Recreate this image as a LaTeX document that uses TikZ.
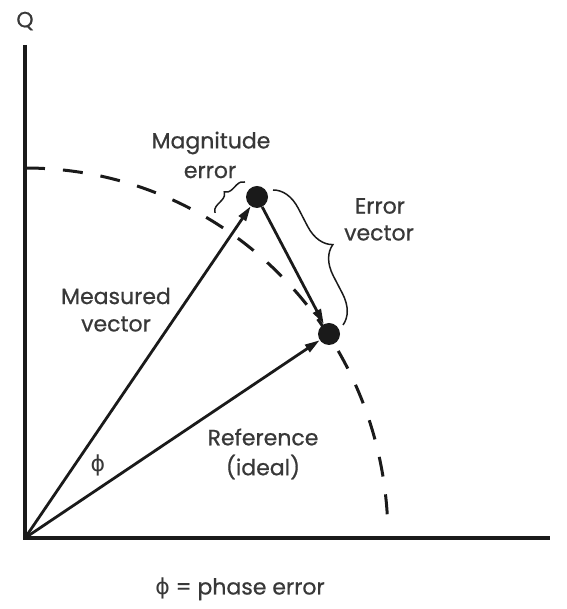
\documentclass[tikz,border=0pt]{standalone}
\usepackage{fontspec}
\setmainfont{Poppins}[FakeBold=0.7]
\newfontfamily\greekfont{DejaVu Sans}
\usetikzlibrary{arrows.meta,decorations.pathreplacing}
\definecolor{ink}{HTML}{1A1A1A}
\definecolor{txt}{HTML}{383838}
\begin{document}
\begin{tikzpicture}[x=1pt,y=1pt,
  axis/.style={draw=ink,line width=3.2pt},
  vec/.style={draw=ink,line width=2.8pt,-{Triangle[length=15pt,width=8.5pt]}},
  dotnode/.style={circle,fill=ink,inner sep=0pt,minimum size=22pt},
  lbl/.style={text=txt,font=\fontsize{22}{26}\selectfont,inner sep=0pt},
  bracestyle/.style={draw=ink,line width=1.5pt,decorate},
  ]
\useasboundingbox (-25,-71) rectangle (541,538);
% axes
\coordinate (O) at (0,0);
\coordinate (Qtop) at (0,493);
\coordinate (Iend) at (525,0);
\draw[axis] (Qtop) -- (O) -- (Iend);
\node[lbl] (Q) at (0,517) {Q};
% dashed circle
\draw[draw=ink,line width=3pt,dash pattern=on 20pt off 18pt]
  (0,370) arc[start angle=90,end angle=1.3,x radius=363,y radius=370];
% points
\node[dotnode] (M) at (232,341) {};
\node[dotnode] (R) at (304,204) {};
% vectors
\draw[vec] (O) -- (M);
\draw[vec] (O) -- (R);
\draw[vec] (M) -- (R);
% braces
\coordinate (b1s) at (190,325);
\coordinate (b1e) at (220,356);
\draw[bracestyle,decoration={brace,amplitude=8pt}] (b1s) -- (b1e);
\coordinate (b2s) at (248,348);
\coordinate (b2e) at (318,213);
\draw[bracestyle,decoration={brace,amplitude=28pt}] (b2s) -- (b2e);
% labels
\node[lbl] (mag1) at (186,395) {Magnitude};
\node[lbl] (mag2) at (185,366) {error};
\node[lbl] (err1) at (355,332) {Error};
\node[lbl] (err2) at (354,305) {vector};
\node[lbl] (meas1) at (91,242) {Measured};
\node[lbl] (meas2) at (91,214) {vector};
\node[lbl] (ref1) at (238,101) {Reference};
\node[lbl] (ref2) at (238,71) {(ideal)};
\node[lbl] (phi) at (73,73) {{\greekfont\char"03D5}};
\node[lbl] (legend) at (215,-51) {{\greekfont\char"03D5} = phase error};
\end{tikzpicture}
\end{document}
